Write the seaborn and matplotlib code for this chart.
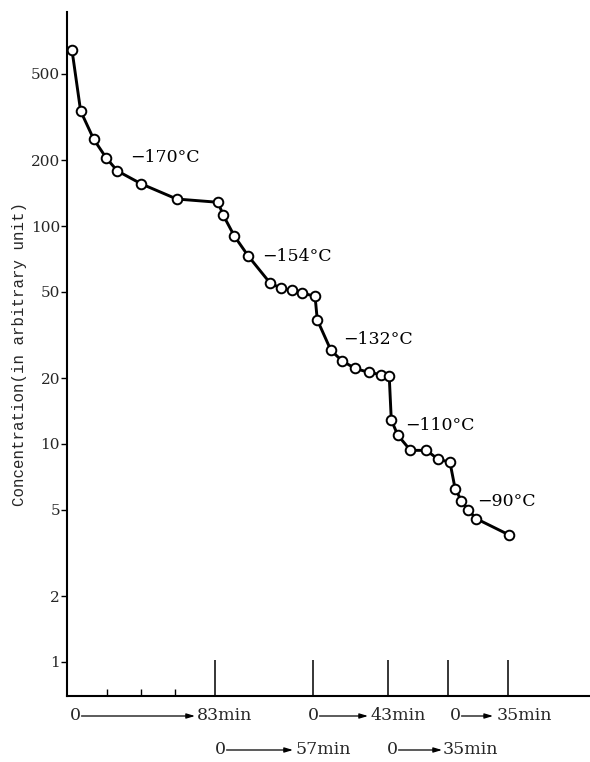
import numpy as np
import pandas as pd
import matplotlib
matplotlib.use("Agg")
import matplotlib.pyplot as plt
import matplotlib.transforms as mtransforms
from matplotlib.ticker import FixedLocator, FixedFormatter, NullFormatter
import seaborn as sns

# ---- data ----
# cumulative annealing time (min) and concentration (arbitrary unit)
time_min = [0, 5, 12.6, 19.9, 26.3, 40.2, 60.7, 84.6,
            87.7, 94.1, 102.2, 114.8, 121.2, 127.4, 133.2, 140.9,
            142.2, 150.1, 156.5, 164.1, 172.3, 179.1, 183.9,
            185.1, 188.8, 196.2, 205.5, 212.3, 219.1,
            222.1, 225.7, 229.7, 234.4, 253.3]
conc = [641, 337, 250, 205, 179, 156, 133, 128.5,
        112, 90, 72.8, 54.8, 51.8, 50.7, 49.3, 47.6,
        37.1, 26.9, 24.1, 22.2, 21.3, 20.8, 20.5,
        12.9, 11.0, 9.35, 9.35, 8.5, 8.26,
        6.24, 5.50, 4.98, 4.54, 3.83]

temp_labels = ["\u2212170\u00b0C", "\u2212154\u00b0C", "\u2212132\u00b0C",
               "\u2212110\u00b0C", "\u221290\u00b0C"]
temp_label_time = [33.6, 110.1, 157.1, 193.0, 234.8]
temp_label_conc = [207, 72.8, 30.3, 12.2, 5.42]

segment_durations = [83, 57, 43, 35, 35]
segment_bounds = list(np.cumsum(segment_durations))  # 83, 140, 183, 218, 253
minor_ticks_min = [20, 40, 60]

y_ticks = [1, 2, 5, 10, 20, 50, 100, 200, 500]
y_ticklabels = ["1", "2", "5", "10", "20", "50", "100", "200", "500"]

# x-axis time annotations: (zero position, arrow end, label start, label, row)
time_notes = [
    (1.7, 71.3, 72.5, "83min", 0),
    (139.7, 171.6, 172.8, "43min", 0),
    (222.0, 244.1, 246.4, "35min", 0),
    (85.8, 128.1, 129.3, "57min", 1),
    (185.5, 214.5, 215.1, "35min", 1),
]

df = pd.DataFrame({"time": time_min, "conc": conc})

# ---- figure ----
sns.set_style("white")
plt.rcParams["font.family"] = ["DejaVu Serif", "Liberation Serif"]

fig = plt.figure(figsize=(5.9, 7.62), dpi=100)
ax = fig.add_axes([67 / 590, 66 / 762, 523 / 590, 684 / 762])

sns.lineplot(data=df, x="time", y="conc", ax=ax, color="black",
             linewidth=2.1, sort=False, zorder=2)
sns.scatterplot(data=df, x="time", y="conc", ax=ax, marker="o", s=48,
                facecolor="white", edgecolor="black", linewidth=1.4,
                zorder=3)

ax.set_yscale("log")
ax.set_xlim(-2.9, 300.3)
ax.set_ylim(0.698, 959)

ax.yaxis.set_major_locator(FixedLocator(y_ticks))
ax.yaxis.set_major_formatter(FixedFormatter(y_ticklabels))
ax.yaxis.set_minor_locator(FixedLocator([]))
ax.tick_params(axis="y", which="major", direction="out", length=4,
               width=1.0, labelsize=11, pad=1, left=True, color="black")

ax.xaxis.set_major_locator(FixedLocator(segment_bounds))
ax.xaxis.set_minor_locator(FixedLocator(minor_ticks_min))
ax.xaxis.set_major_formatter(NullFormatter())
ax.xaxis.set_minor_formatter(NullFormatter())
ax.tick_params(axis="x", which="major", direction="in", length=26,
               width=1.1, bottom=True, color="black")
ax.tick_params(axis="x", which="minor", direction="in", length=5,
               width=1.0, bottom=True, color="black")

for side in ["top", "right"]:
    ax.spines[side].set_visible(False)
for side in ["left", "bottom"]:
    ax.spines[side].set_color("black")
    ax.spines[side].set_linewidth(1.5)

ax.set_xlabel("")
ax.set_ylabel("Concentration(in arbitrary unit)",
              family=["Liberation Mono", "DejaVu Sans Mono"],
              fontsize=11.3, labelpad=3)

for lab, tx, cy in zip(temp_labels, temp_label_time, temp_label_conc):
    ax.text(tx, cy, lab, fontsize=12.5, va="center", ha="left", color="black")

# time annotations below the axis
trans = mtransforms.blended_transform_factory(ax.transData, fig.transFigure)
row_y = [1 - 716 / 762, 1 - 750 / 762]
for zero_x, arrow_end, lab_x, lab, row in time_notes:
    y = row_y[row]
    ax.text(zero_x, y, "0", transform=trans, ha="center", va="center",
            fontsize=12.5, clip_on=False)
    ax.annotate("", xy=(arrow_end, y), xytext=(zero_x + 3.8, y),
                xycoords=trans, textcoords=trans,
                arrowprops=dict(arrowstyle="-|>,head_length=0.5,head_width=0.15",
                                color="black", lw=0.9, shrinkA=0, shrinkB=0),
                annotation_clip=False)
    ax.text(lab_x, y, lab, transform=trans, ha="left", va="center",
            fontsize=12.5, clip_on=False)

fig.savefig("out.png", dpi=100)
